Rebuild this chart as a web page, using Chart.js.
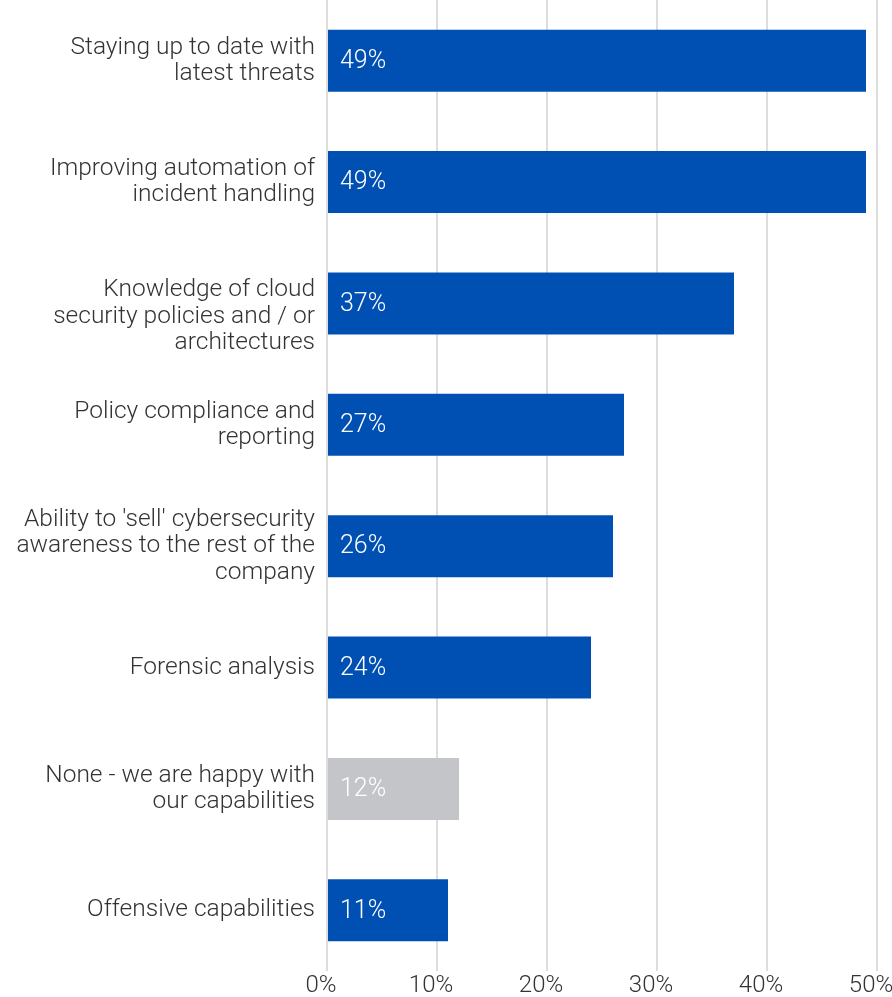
<!DOCTYPE html>
<html>
<head>
<meta charset="utf-8">
<script src="https://cdn.jsdelivr.net/npm/chart.js@4/dist/chart.umd.min.js"></script>
<style>
  html, body { margin: 0; padding: 0; background: #fff; }
  #wrap { width: 892px; height: 997px; }
</style>
</head>
<body>
<div id="wrap"><canvas id="skillsChart"></canvas></div>
<script>
// leading "" pushes the three-line label down one half line
const labels = [
  ["Staying up to date with", "latest threats"],
  ["Improving automation of", "incident handling"],
  ["", "Knowledge of cloud", "security policies and / or", "architectures"],
  ["Policy compliance and", "reporting"],
  ["Ability to 'sell' cybersecurity", "awareness to the rest of the", "company"],
  ["Forensic analysis"],
  ["None - we are happy with", "our capabilities"],
  ["Offensive capabilities"]
];
const values = [49, 49, 37, 27, 26, 24, 12, 11];
const barColors = ["#0050B4", "#0050B4", "#0050B4", "#0050B4", "#0050B4", "#0050B4", "#C3C5C9", "#0050B4"];
const xTicks = [0, 10, 20, 30, 40, 50];

const FONT = "Roboto, 'Liberation Sans', sans-serif";

// percentage text inside each bar, near the left edge
const valueLabels = {
  id: "valueLabels",
  afterDatasetsDraw(chart) {
    const ctx = chart.ctx;
    const meta = chart.getDatasetMeta(0);
    const x0 = chart.scales.x.getPixelForValue(0);
    ctx.save();
    ctx.font = "300 25px " + FONT;
    ctx.fillStyle = "#ffffff";
    ctx.textAlign = "left";
    ctx.textBaseline = "middle";
    meta.data.forEach((bar, i) => {
      ctx.fillText(values[i] + "%", x0 + 13, bar.y + 1);
    });
    ctx.restore();
  }
};

new Chart(document.getElementById("skillsChart"), {
  type: "bar",
  data: {
    labels: labels,
    datasets: [{
      data: values,
      backgroundColor: barColors,
      barPercentage: 0.51,
      categoryPercentage: 1
    }]
  },
  options: {
    indexAxis: "y",
    responsive: true,
    maintainAspectRatio: false,
    animation: false,
    layout: { padding: { left: 0, right: 15, top: 0, bottom: 0 } },
    plugins: {
      legend: { display: false },
      tooltip: { enabled: false }
    },
    scales: {
      x: {
        min: 0,
        max: 50,
        afterBuildTicks(scale) {
          scale.ticks = xTicks.map(v => ({ value: v }));
        },
        afterFit(scale) {
          scale.height = 26;
          scale.paddingLeft = 0;
          scale.paddingRight = 0;
        },
        grid: { color: "#DDDDDD", lineWidth: 2, drawTicks: false },
        border: { display: false },
        ticks: {
          padding: 1,
          labelOffset: -6,
          color: "#333333",
          font: { family: FONT, size: 24, weight: 300 },
          callback: v => v + "%"
        }
      },
      y: {
        afterFit(scale) {
          scale.width = 327;
          scale.paddingTop = 0;
          scale.paddingBottom = 0;
        },
        grid: { display: false, drawTicks: false },
        border: { display: false },
        ticks: {
          padding: 12,
          color: "#333333",
          font: { family: FONT, size: 24.5, weight: 300, lineHeight: 1.07 }
        }
      }
    }
  },
  plugins: [valueLabels]
});
</script>
</body>
</html>
